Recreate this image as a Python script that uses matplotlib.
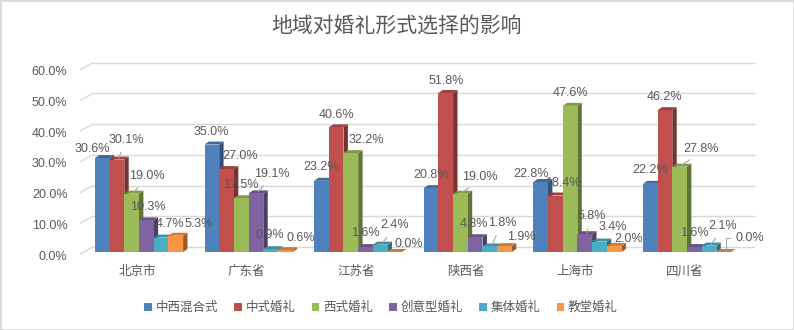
import matplotlib.pyplot as plt
import numpy as np
from matplotlib.patches import Polygon, Patch, Rectangle
from matplotlib.transforms import ScaledTranslation

plt.rcParams['font.family'] = ['Liberation Sans', 'Noto Sans CJK SC']

categories = ['北京市', '广东省', '江苏省', '陕西省', '上海市', '四川省']
series = ['中西混合式', '中式婚礼', '西式婚礼', '创意型婚礼', '集体婚礼', '教堂婚礼']
hybrid = [30.6, 35.0, 23.2, 20.8, 22.8, 22.2]
chinese = [30.1, 27.0, 40.6, 51.8, 18.4, 46.2]
western = [19.0, 17.5, 32.2, 19.0, 47.6, 27.8]
creative = [10.3, 19.1, 1.6, 4.8, 5.8, 1.6]
collective = [4.7, 0.9, 2.4, 1.8, 3.4, 2.1]
church = [5.3, 0.6, 0.0, 1.9, 2.0, 0.0]
values = [hybrid, chinese, western, creative, collective, church]
yticks = [0, 10, 20, 30, 40, 50, 60]

colors = ['#4F81BD', '#C0504D', '#9BBB59', '#8064A2', '#4BACC6', '#F79646']
txt = '#595959'
grid = '#D9D9D9'

# label nudges in pixels (series, category) -> (dx, dy, leader)
nudge = {
    (0, 0): (-10, 9, 0), (1, 0): (9, 20, 1), (2, 0): (15, 18, 1), (3, 0): (1, 13, 0),
    (4, 0): (9, 13.5, 0), (5, 0): (23, 12, 0),
    (0, 1): (-1, 12.5, 0), (1, 1): (14, 13, 0), (3, 1): (16, 19.5, 1),
    (4, 1): (-1, 14, 0), (5, 1): (15, 12, 0),
    (0, 2): (0, 14, 0), (1, 2): (0, 12.5, 0), (2, 2): (15, 13, 0), (3, 2): (0, 14, 0),
    (4, 2): (14, 19.5, 1), (5, 2): (14, 8, 0),
    (1, 3): (0, 12, 0), (2, 3): (19.5, 17, 1), (3, 3): (-1, 13, 0),
    (4, 3): (12, 23.5, 1), (5, 3): (17, 9, 0),
    (0, 4): (-10, 8, 0), (1, 4): (7.5, 12.5, 0), (3, 4): (7, 18, 1),
    (4, 4): (13.5, 14.5, 0), (5, 4): (14, 7, 0),
    (0, 5): (0, 14, 0), (2, 5): (21, 18, 1), (3, 5): (0, 14, 0),
    (4, 5): (14, 19.5, 1), (5, 5): (26, 14, 2),
}

fig = plt.figure(figsize=(7.94, 3.30), dpi=100)
ax = fig.add_axes([80 / 794, 74 / 330, 690 / 794, 201 / 330])
px = 1 / 109.6      # one pixel in x data units
py = 1 / 3.07       # one pixel in y data units
ax.set_xlim(-59 * px, 631 * px)
ax.set_ylim(-4 * py, 197 * py)
for s in ax.spines.values():
    s.set_visible(False)

# walls: left side lines and back gridlines
x_front, x_back = -0.538, -0.42
x_end = 5.61
for v in yticks:
    ax.plot([x_front, x_back], [v - 2 * py, v + 5 * py], color=grid, lw=1.0, zorder=0)
    ax.plot([x_back, x_end], [v + 5 * py, v + 5 * py], color=grid, lw=1.0, zorder=0)

w = 14.7 * px
ddx, ddy = 4.4 * px, 3 * py
x = np.arange(len(categories))

def shade(c, f):
    r, g, b = plt.matplotlib.colors.to_rgb(c)
    return (r * f, g * f, b * f)

for k, vals in enumerate(values):
    xs = x + (k - 2.5) * w
    z = 2 + k
    ax.bar(xs, vals, width=w, color=colors[k], zorder=z + 0.2, linewidth=0)
    for xi, v in zip(xs, vals):
        l, r = xi - w / 2, xi + w / 2
        side = Polygon([(r, 0), (r + ddx, ddy), (r + ddx, v + ddy), (r, v)],
                       closed=True, fc=shade(colors[k], 0.62), ec='none', zorder=z)
        top = Polygon([(l, v), (l + ddx, v + ddy), (r + ddx, v + ddy), (r, v)],
                      closed=True, fc=shade(colors[k], 0.82), ec='none', zorder=z)
        ax.add_patch(side)
        ax.add_patch(top)

# value labels
for k, vals in enumerate(values):
    xs = x + (k - 2.5) * w
    for i, (xi, v) in enumerate(zip(xs, vals)):
        dx, dy, lead = nudge.get((k, i), (0, 13, 0))
        ax0, ay0 = xi + ddx / 2, v + ddy / 2
        kw = dict(textcoords='offset pixels', ha='center', va='center',
                  fontsize=9, color=txt, zorder=20)
        if lead == 1:
            kw['arrowprops'] = dict(arrowstyle='-', color='#A6A6A6', lw=0.8,
                                    shrinkA=3, shrinkB=0, relpos=(0.4, 0.0))
        elif lead == 2:
            kw['arrowprops'] = dict(arrowstyle='-', color='#A6A6A6', lw=0.8,
                                    shrinkA=2, shrinkB=0, relpos=(0.0, 0.5),
                                    connectionstyle='angle,angleA=0,angleB=90,rad=0')
        ax.annotate(f'{v:.1f}%', xy=(ax0, ay0), xytext=(dx - 2.2, dy - 1.5), **kw)

ax.set_xticks(x)
ax.set_xticklabels(categories, fontsize=9, color=txt)
ax.set_yticks(yticks)
ax.set_yticklabels([f'{v:.1f}%' for v in yticks], fontsize=9, color=txt)
ax.tick_params(axis='x', length=0, pad=7)
ax.tick_params(axis='y', length=0, pad=9)
for lab in ax.get_yticklabels():
    lab.set_transform(lab.get_transform() + ScaledTranslation(0, -0.03, fig.dpi_scale_trans))
for lab in ax.get_xticklabels():
    lab.set_transform(lab.get_transform() + ScaledTranslation(-0.02, 0, fig.dpi_scale_trans))

fig.text(397 / 794, 1 - 26 / 330, '地域对婚礼形式选择的影响', ha='center', va='center',
         fontsize=15, color=txt, family=['Noto Sans CJK SC'])

handles = [Patch(facecolor=c, edgecolor='none') for c in colors]
fig.legend(handles, series, loc='center', bbox_to_anchor=(381 / 794, 1 - 308 / 330),
           ncol=6, frameon=False, fontsize=9, handlelength=0.6, handleheight=0.6,
           handletextpad=0.3, columnspacing=1.3, labelcolor=txt)

fig.patches.append(Rectangle((0, 0), 1, 1, transform=fig.transFigure, fill=False,
                             edgecolor=grid, lw=2))

fig.savefig('out.png', dpi=100)
